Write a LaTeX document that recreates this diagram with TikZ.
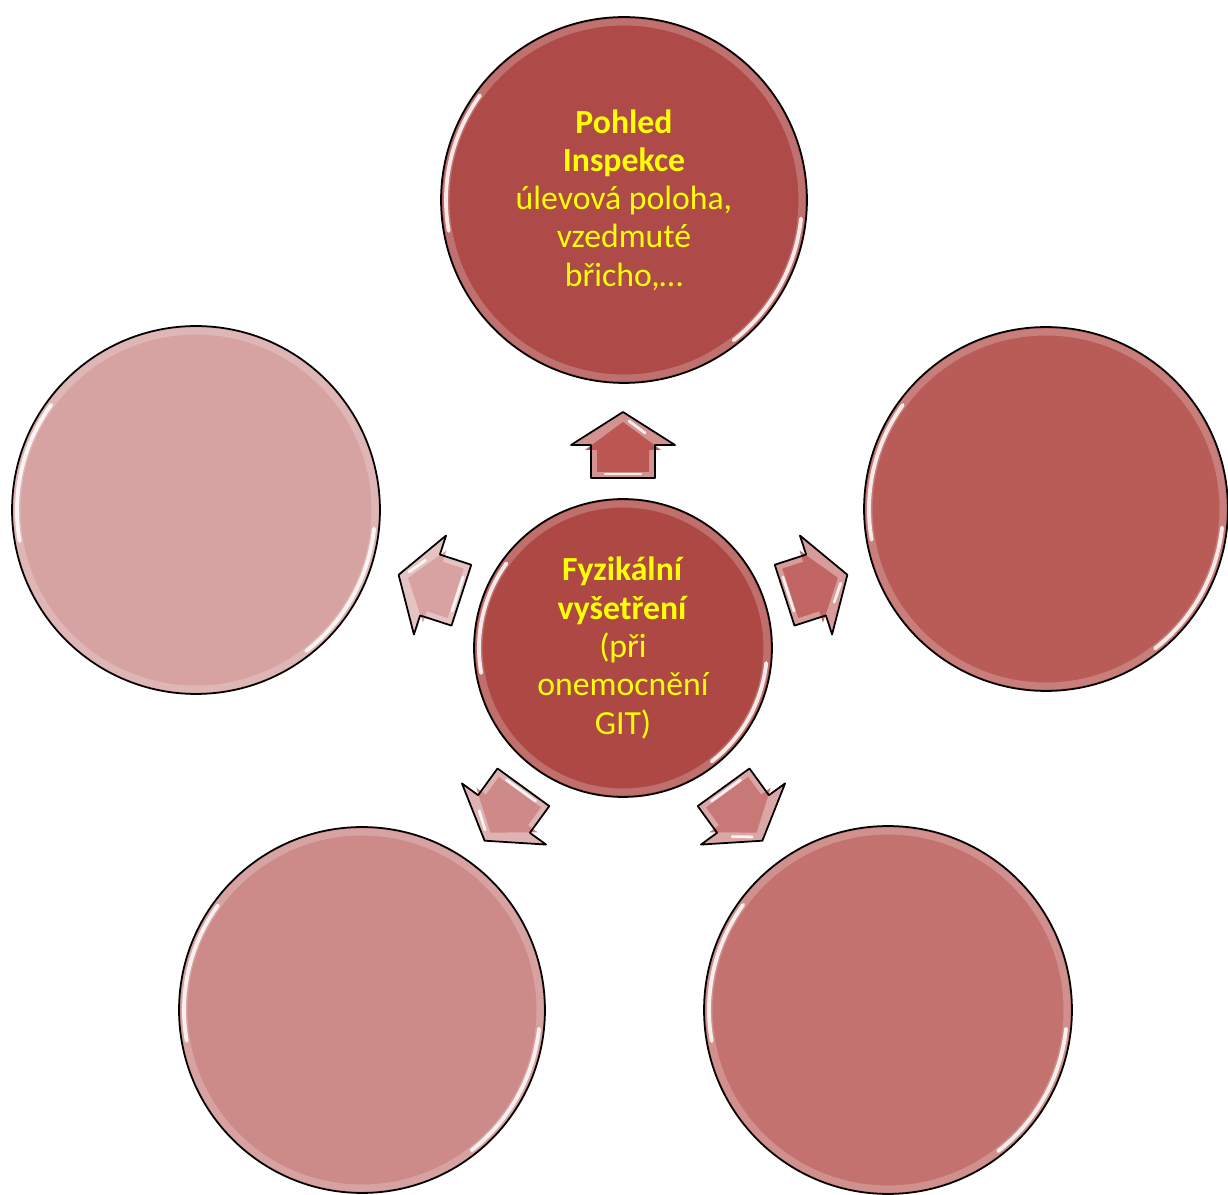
\documentclass[tikz,border=0pt]{standalone}
\usepackage{fontspec}
\setmainfont{Carlito}
\usetikzlibrary{calc}
\definecolor{cTop}{RGB}{174,74,71}
\definecolor{cCen}{RGB}{173,72,69}
\definecolor{cRight}{RGB}{185,91,87}
\definecolor{cBR}{RGB}{196,114,111}
\definecolor{cBL}{RGB}{204,138,136}
\definecolor{cLeft}{RGB}{215,162,162}
\definecolor{aTop}{RGB}{187,86,83}
\definecolor{aRight}{RGB}{194,102,99}
\definecolor{aBR}{RGB}{200,120,118}
\definecolor{aBL}{RGB}{206,138,136}
\definecolor{aLeft}{RGB}{215,162,161}
\definecolor{txt}{RGB}{255,255,0}
\tikzset{
  ball/.style={circle, draw=black, line width=1pt, fill=#1, inner sep=0pt,
    text=txt, align=center, font=\fontsize{19.2}{21.8}\selectfont},
  rim/.style={draw=white, line width=2.2pt, opacity=.85, line cap=round},
  softrim/.style={draw=white, line width=4pt, opacity=.22},
  arrowedge/.style={draw=black, line width=1pt, line join=round},
  shine/.style={draw=white, line width=1.6pt, opacity=.85, line cap=round},
}
\newcommand\glossy[2]{%
  \draw[softrim] (#1.center) circle[radius=#2-5];
  \draw[rim] ($(#1.center)+(-144:#2-5)$) arc[start angle=-144,end angle=-190,radius=#2-5];
  \draw[rim] ($(#1.center)+(6:#2-5)$) arc[start angle=6,end angle=52,radius=#2-5];
}
\newcommand\blockarrow[4]{%
  \begin{scope}[shift={(#1,#2)}, rotate=#3]
    \fill[#4!65!white] (-33,-32) -- (0,-32) -- (0,-52) -- (33,0) -- (0,52) -- (0,32) -- (-33,32) -- cycle;
    \fill[#4] (-27,-26) -- (-5,-26) -- (-5,-38) -- (23,0) -- (-5,38) -- (-5,26) -- (-27,26) -- cycle;
    \draw[shine] (24,6) -- (12,22);
    \draw[shine] (-29,-18) -- (-29,18);
    \draw[arrowedge] (-33,-32) -- (0,-32) -- (0,-52) -- (33,0) -- (0,52) -- (0,32) -- (-33,32) -- cycle;
  \end{scope}}
\begin{document}
\begin{tikzpicture}[x=0.02cm, y=-0.02cm]
  \useasboundingbox (0,0) rectangle (1228,1195);
  % satellite and centre circles
  \node[ball=cTop, minimum size=7.32cm] (top) at (624,200)
    {\textbf{Pohled}\\\textbf{Inspekce}\\úlevová poloha,\\vzedmuté\\břicho,…};
  \node[ball=cRight, minimum size=7.28cm] (right) at (1046,509) {};
  \node[ball=cBR, minimum size=7.36cm] (bright) at (888,1010) {};
  \node[ball=cBL, minimum size=7.32cm] (bleft) at (362,1010) {};
  \node[ball=cLeft, minimum size=7.36cm] (left) at (196,510) {};
  \node[ball=cCen, minimum size=5.96cm] (cen) at (623,648)
    {\textbf{Fyzikální}\\\textbf{vyšetření}\\(při\\onemocnění\\GIT)};
  \glossy{top}{183}
  \glossy{right}{182}
  \glossy{bright}{184}
  \glossy{bleft}{183}
  \glossy{left}{184}
  \glossy{cen}{149}
  % block arrows
  \blockarrow{623}{445}{90}{aTop}
  \blockarrow{816}{585}{18}{aRight}
  \blockarrow{743}{814}{-54}{aBR}
  \blockarrow{504}{814}{-126}{aBL}
  \blockarrow{430}{585}{162}{aLeft}
\end{tikzpicture}
\end{document}
